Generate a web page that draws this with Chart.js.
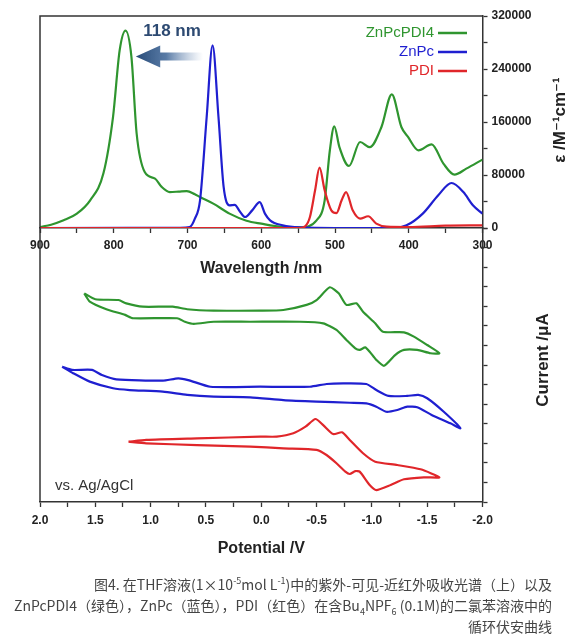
<!DOCTYPE html>
<html>
<head>
<meta charset="utf-8">
<script src="https://cdn.jsdelivr.net/npm/chart.js@4.4.1/dist/chart.umd.min.js"></script>
<style>
  body { margin: 0; background: #fff; width: 586px; height: 644px; position: relative; overflow: hidden; }
  canvas { position: absolute; left: 0; }
  #absChart { top: 0; }
  #cvChart { top: 200px; }
  .caption {
    position: absolute; right: 34px; top: 574px; text-align: right; white-space: nowrap;
    font-family: "Noto Sans CJK SC", "Noto Sans", sans-serif; font-size: 14px; line-height: 21px; color: #444;
  }
  .caption sup, .caption sub { font-size: 9px; line-height: 0; }
</style>
</head>
<body>
<canvas id="absChart" width="586" height="290"></canvas>
<canvas id="cvChart" width="586" height="370"></canvas>
<div class="caption">
  图4. 在THF溶液(1×10<sup>-5</sup>mol L<sup>-1</sup>)中的紫外-可见-近红外吸收光谱（上）以及<br>
  ZnPcPDI4（绿色），ZnPc（蓝色），PDI（红色）在含Bu<sub>4</sub>NPF<sub>6</sub> (0.1M)的二氯苯溶液中的<br>
  循环伏安曲线
</div>
<script>
// Espectros de absorción (nm, M-1 cm-1)
const wlZnPcPDI4 = [900, 885, 868, 850, 832, 814, 801, 792, 784, 776, 769, 758, 744, 735, 724, 712, 701, 690, 683, 665, 643, 620, 600, 571, 548, 525, 514, 507, 501, 494, 481, 466, 453, 437, 423, 410, 401, 387, 369, 353, 338, 322, 300];
const epsZnPcPDI4 = [1500, 5000, 11600, 21700, 41800, 82500, 167500, 268000, 298000, 258000, 143000, 84500, 74500, 62000, 54300, 55000, 55800, 51000, 46800, 36800, 21700, 11000, 6500, 1500, 800, 11600, 41800, 117000, 153500, 122000, 93600, 129800, 122000, 152400, 201800, 152400, 137400, 117300, 126300, 97200, 80600, 89600, 103200];

const wlZnPc = [900, 710, 697, 690, 683, 674, 666, 658, 651, 643, 636, 629, 622, 612, 602, 595, 588, 571, 548, 500, 421, 403, 381, 360, 342, 326, 313, 300];
const epsZnPc = [0, 300, 1500, 14000, 41800, 167500, 275800, 167500, 61900, 34300, 34800, 25000, 16600, 27000, 39200, 21700, 11600, 4000, 800, 0, 0, 4000, 21700, 49400, 67900, 54300, 34300, 21700];

const wlPDI = [900, 548, 540, 534, 527, 521, 514, 505, 498, 491, 485, 476, 466, 455, 444, 430, 400, 350, 300];
const epsPDI = [0, 0, 3000, 16600, 56900, 91100, 56900, 26700, 22600, 41800, 54300, 26700, 14200, 17700, 6600, 2000, 1500, 3500, 4000];

// Voltametría cíclica (V vs. Ag/AgCl, corriente desplazada, u.a.)
const cvZnPcPDI4V = [1.60, 1.50, 1.29, 1.22, 1.07, 0.80, 0.67, 0.43, 0.01, -0.20, -0.41, -0.50, -0.62, -0.70, -0.77, -0.86, -0.92, -1.03, -1.10, -1.29, -1.38, -1.50, -1.61, -1.53, -1.41, -1.29, -1.21, -1.11, -1.04, -0.98, -0.94, -0.89, -0.85, -0.77, -0.68, -0.56, -0.35, 0.10, 0.43, 0.61, 0.69, 0.76, 1.16, 1.23, 1.40, 1.55];
const cvZnPcPDI4I = [10.66, 10.36, 10.32, 10.15, 9.98, 9.98, 9.85, 9.78, 9.78, 9.81, 10.07, 10.32, 10.97, 10.66, 10.07, 10.15, 9.72, 9.13, 8.70, 8.67, 8.45, 8.02, 7.60, 7.60, 7.77, 7.77, 7.51, 6.96, 7.26, 7.68, 7.90, 7.77, 7.85, 8.28, 8.79, 9.13, 9.21, 9.21, 9.21, 9.10, 9.21, 9.39, 9.39, 9.56, 9.85, 10.24];

const cvZnPcV = [1.80, 1.71, 1.53, 1.44, 1.31, 0.89, 0.75, 0.66, 0.46, 0.01, -0.44, -0.59, -0.74, -0.95, -1.04, -1.15, -1.32, -1.42, -1.50, -1.65, -1.80, -1.71, -1.54, -1.41, -1.32, -1.23, -1.13, -1.04, -0.95, -0.80, -0.50, -0.20, 0.10, 0.43, 0.67, 0.89, 1.19, 1.34, 1.55, 1.70];
const cvZnPcI = [6.91, 6.75, 6.75, 6.49, 6.27, 6.20, 6.32, 6.23, 5.89, 5.89, 5.89, 6.03, 6.06, 6.03, 5.72, 5.42, 5.42, 5.47, 5.30, 4.61, 3.77, 4.02, 4.45, 4.84, 4.87, 4.70, 4.61, 4.87, 5.04, 5.07, 5.13, 5.21, 5.35, 5.38, 5.47, 5.64, 5.72, 5.81, 6.15, 6.58];

const cvPDIV = [1.20, 1.04, 0.58, 0.01, -0.14, -0.29, -0.40, -0.49, -0.56, -0.65, -0.73, -0.80, -0.92, -1.03, -1.23, -1.44, -1.61, -1.47, -1.29, -1.17, -1.04, -0.98, -0.89, -0.85, -0.80, -0.76, -0.68, -0.59, -0.50, -0.20, 0.10, 0.58, 1.04];
const cvPDII = [3.08, 3.17, 3.25, 3.34, 3.34, 3.51, 3.85, 4.24, 3.93, 3.47, 3.56, 3.17, 2.49, 2.06, 1.89, 1.67, 1.26, 1.26, 1.16, 0.87, 0.61, 0.87, 1.55, 1.58, 1.43, 1.55, 1.98, 2.40, 2.66, 2.74, 2.83, 2.91, 3.00];

const verde = '#2f952f';
const azul = '#1f1fd0';
const rojo = '#e0262a';
const FAMILIA = '"Liberation Sans", Arial, "DejaVu Sans", sans-serif';
const ejeColor = '#333';

function puntos(xs, ys, cerrar) {
    const p = xs.map((x, i) => ({ x: x, y: ys[i] }));
    if (cerrar) p.push({ x: xs[0], y: ys[0] });
    return p;
}

// Marco: línea izquierda (y superior en el gráfico de arriba)
function marcoPlugin(conTop) {
    return {
        id: 'marco',
        afterDraw(chart) {
            const { ctx, chartArea: a } = chart;
            ctx.save();
            ctx.strokeStyle = ejeColor;
            ctx.lineWidth = 1.5;
            ctx.beginPath();
            ctx.moveTo(a.left, a.bottom);
            ctx.lineTo(a.left, a.top);
            if (conTop) ctx.lineTo(a.right, a.top);
            ctx.stroke();
            ctx.restore();
        }
    };
}

// Título vertical del eje derecho (leído de abajo arriba)
function tituloY(texto, x, y) {
    return {
        id: 'tituloY',
        afterDraw(chart) {
            const ctx = chart.ctx;
            ctx.save();
            ctx.translate(x, y);
            ctx.rotate(-Math.PI / 2);
            ctx.font = 'bold 17px ' + FAMILIA;
            ctx.fillStyle = '#222';
            ctx.textAlign = 'center';
            ctx.textBaseline = 'middle';
            ctx.fillText(texto, 0, 0);
            ctx.restore();
        }
    };
}

// Leyenda y flecha de 118 nm
const anotacionesAbs = {
    id: 'anotacionesAbs',
    afterDatasetsDraw(chart) {
        const { ctx, scales: { x, y } } = chart;
        ctx.save();
        // leyenda
        ctx.font = '15px ' + FAMILIA;
        ctx.textAlign = 'right';
        ctx.textBaseline = 'middle';
        chart.data.datasets.forEach((ds, i) => {
            const fy = 33 + i * 19;
            ctx.strokeStyle = ds.borderColor;
            ctx.lineWidth = 2.5;
            ctx.beginPath();
            ctx.moveTo(438, fy);
            ctx.lineTo(467, fy);
            ctx.stroke();
            ctx.fillStyle = ds.borderColor;
            ctx.fillText(ds.label, 434, fy);
        });
        // flecha
        const xPunta = x.getPixelForValue(770);
        const xBase = x.getPixelForValue(737);
        const xFin = x.getPixelForValue(679);
        const yF = y.getPixelForValue(259000);
        const grad = ctx.createLinearGradient(xPunta, 0, xFin, 0);
        grad.addColorStop(0, 'rgba(40,75,120,1)');
        grad.addColorStop(0.45, 'rgba(60,100,150,0.85)');
        grad.addColorStop(1, 'rgba(120,150,190,0)');
        ctx.fillStyle = grad;
        ctx.beginPath();
        ctx.moveTo(xPunta, yF);
        ctx.lineTo(xBase, yF - 11);
        ctx.lineTo(xBase, yF - 4);
        ctx.lineTo(xFin, yF - 4);
        ctx.lineTo(xFin, yF + 4);
        ctx.lineTo(xBase, yF + 4);
        ctx.lineTo(xBase, yF + 11);
        ctx.closePath();
        ctx.fill();
        ctx.font = 'bold 17px ' + FAMILIA;
        ctx.fillStyle = '#2d4a72';
        ctx.textAlign = 'center';
        ctx.fillText('118 nm', x.getPixelForValue(721), y.getPixelForValue(297000));
        ctx.restore();
    }
};

const notaCV = {
    id: 'notaCV',
    afterDraw(chart) {
        const ctx = chart.ctx;
        ctx.save();
        ctx.font = '15px ' + FAMILIA;
        ctx.fillStyle = '#333';
        ctx.textAlign = 'left';
        ctx.textBaseline = 'middle';
        ctx.fillText('vs. Ag/AgCl', 55, chart.chartArea.bottom - 16);
        ctx.restore();
    }
};

const fuenteTicks = { family: FAMILIA, size: 12, weight: 'bold' };
const fuenteTitulo = { family: FAMILIA, size: 16, weight: 'bold' };

// Gráfico de absorción
new Chart(document.getElementById('absChart').getContext('2d'), {
    type: 'line',
    data: {
        datasets: [
            { label: 'ZnPcPDI4', data: puntos(wlZnPcPDI4, epsZnPcPDI4), borderColor: verde, order: 3 },
            { label: 'ZnPc', data: puntos(wlZnPc, epsZnPc), borderColor: azul, order: 2 },
            { label: 'PDI', data: puntos(wlPDI, epsPDI), borderColor: rojo, order: 1 }
        ]
    },
    options: {
        responsive: false,
        animation: false,
        layout: { padding: { left: 40, top: 16, right: 0, bottom: 0 } },
        elements: {
            point: { radius: 0 },
            line: { borderWidth: 2.2, cubicInterpolationMode: 'monotone', fill: false }
        },
        plugins: { legend: { display: false }, tooltip: { enabled: false } },
        scales: {
            x: {
                type: 'linear', reverse: true, min: 300, max: 900,
                ticks: {
                    stepSize: 50, autoSkip: false, maxRotation: 0, padding: 5,
                    font: fuenteTicks, color: '#222',
                    callback: v => v % 100 === 0 ? String(v) : ''
                },
                grid: { drawOnChartArea: false, tickLength: 5, tickColor: ejeColor, tickWidth: 1.3 },
                border: { color: ejeColor, width: 1.5 },
                title: { display: true, text: 'Wavelength /nm', font: fuenteTitulo, color: '#222', padding: { top: 0, bottom: 12 } },
                afterFit: s => { s.height = 62; }
            },
            y: {
                position: 'right', min: 0, max: 320000,
                ticks: {
                    stepSize: 40000, autoSkip: false, padding: 4,
                    font: fuenteTicks, color: '#222',
                    callback: v => v % 80000 === 0 ? String(v) : ''
                },
                grid: { drawOnChartArea: false, tickLength: 5, tickColor: ejeColor, tickWidth: 1.3 },
                border: { color: ejeColor, width: 1.5 },
                afterFit: s => { s.width = 103.5; }
            }
        }
    },
    plugins: [marcoPlugin(true), anotacionesAbs, tituloY('ε /M⁻¹cm⁻¹', 560, 120)]
});

// Gráfico de voltametría cíclica
new Chart(document.getElementById('cvChart').getContext('2d'), {
    type: 'scatter',
    data: {
        datasets: [
            { label: 'ZnPcPDI4', data: puntos(cvZnPcPDI4V, cvZnPcPDI4I, true), borderColor: verde },
            { label: 'ZnPc', data: puntos(cvZnPcV, cvZnPcI, true), borderColor: azul },
            { label: 'PDI', data: puntos(cvPDIV, cvPDII, true), borderColor: rojo }
        ]
    },
    options: {
        responsive: false,
        animation: false,
        layout: { padding: { left: 40, top: 28, right: 0, bottom: 0 } },
        elements: {
            point: { radius: 0 },
            line: { borderWidth: 2.2, tension: 0.2, fill: false }
        },
        showLine: true,
        plugins: { legend: { display: false }, tooltip: { enabled: false } },
        scales: {
            x: {
                type: 'linear', reverse: true, min: -2, max: 2,
                ticks: {
                    stepSize: 0.25, autoSkip: false, maxRotation: 0, padding: 6,
                    font: fuenteTicks, color: '#222',
                    callback: v => Math.abs(v * 2 - Math.round(v * 2)) < 1e-6 ? v.toFixed(1) : ''
                },
                grid: { drawOnChartArea: false, tickLength: 5, tickColor: ejeColor, tickWidth: 1.3 },
                border: { color: ejeColor, width: 1.5 },
                title: { display: true, text: 'Potential /V', font: fuenteTitulo, color: '#222', padding: { top: 0, bottom: 12 } },
                afterFit: s => { s.height = 68; }
            },
            y: {
                position: 'right', min: 0, max: 14,
                ticks: { stepSize: 1, autoSkip: false, callback: () => '' },
                grid: { drawOnChartArea: false, tickLength: 5, tickColor: ejeColor, tickWidth: 1.3 },
                border: { color: ejeColor, width: 1.5 },
                afterFit: s => { s.width = 103.5; }
            }
        }
    },
    plugins: [marcoPlugin(false), notaCV, tituloY('Current /μA', 543, 160)]
});
</script>
</body>
</html>
